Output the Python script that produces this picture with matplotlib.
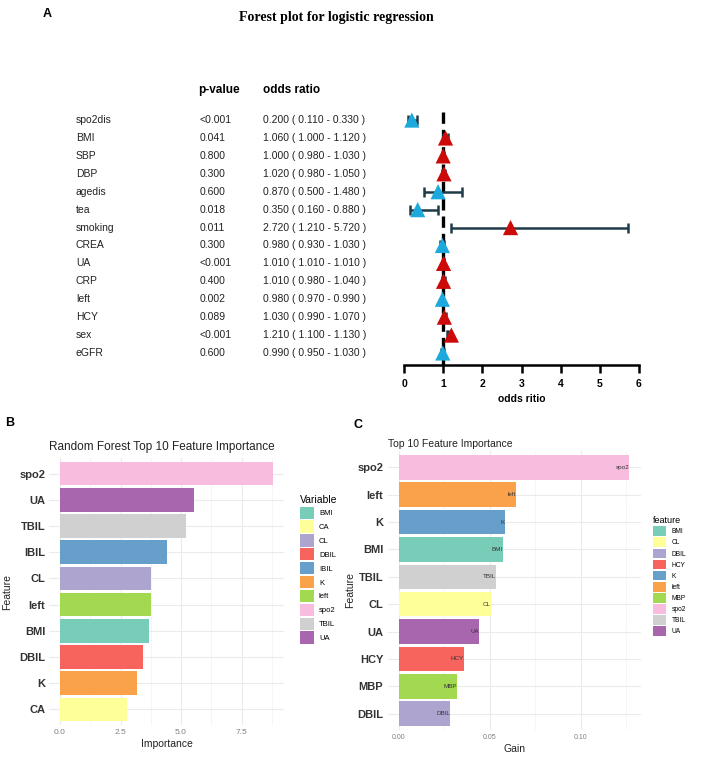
import matplotlib
matplotlib.use('Agg')
import matplotlib.pyplot as plt
import numpy as np
from matplotlib.patches import Patch
from matplotlib.transforms import blended_transform_factory

plt.rcParams['font.family'] = ['Liberation Sans', 'DejaVu Sans']

# --- A: logistic regression ---
variables = ['spo2dis', 'BMI', 'SBP', 'DBP', 'agedis', 'tea', 'smoking',
             'CREA', 'UA', 'CRP', 'left', 'HCY', 'sex', 'eGFR']
p_values = ['<0.001', '0.041', '0.800', '0.300', '0.600', '0.018', '0.011',
            '0.300', '<0.001', '0.400', '0.002', '0.089', '<0.001', '0.600']
odds = [0.200, 1.060, 1.000, 1.020, 0.870, 0.350, 2.720,
        0.980, 1.010, 1.010, 0.980, 1.030, 1.210, 0.990]
ci_low = [0.110, 1.000, 0.980, 0.980, 0.500, 0.160, 1.210,
          0.930, 1.010, 0.980, 0.970, 0.990, 1.100, 0.950]
ci_high = [0.330, 1.120, 1.030, 1.050, 1.480, 0.880, 5.720,
           1.030, 1.010, 1.040, 0.990, 1.070, 1.130, 1.030]

# --- B: random forest ---
rf_features = ['spo2', 'UA', 'TBIL', 'IBIL', 'CL', 'left', 'BMI', 'DBIL', 'K', 'CA']
rf_importance = [8.80, 5.55, 5.20, 4.40, 3.78, 3.74, 3.67, 3.41, 3.20, 2.75]

# --- C: gain ---
xgb_features = ['spo2', 'left', 'K', 'BMI', 'TBIL', 'CL', 'UA', 'HCY', 'MBP', 'DBIL']
xgb_gain = [0.1264, 0.0643, 0.0582, 0.0571, 0.0533, 0.0505, 0.0440, 0.0357, 0.0319, 0.0280]

palette = ['#78CDB9', '#FFFF9A', '#ADA5D0', '#F7645E', '#679FCB',
           '#F9A24A', '#A2D950', '#F7BCDE', '#D0D0D0', '#A866AE']

W, H = 708, 764
fig = plt.figure(figsize=(W / 100, H / 100), dpi=100)


def add_ax(l, t, r, b):
    return fig.add_axes([l / W, 1 - b / H, (r - l) / W, (b - t) / H])


def fx(x):
    return x / W


def fy(y):
    return 1 - y / H


# ================= panel A =================
fig.text(fx(47), fy(14), 'A', fontsize=9, fontweight='bold', ha='center', va='center')
fig.text(fx(336), fy(18), 'Forest plot for logistic regression', fontsize=10,
         fontweight='bold', family='Liberation Serif', ha='center', va='center')

ax = add_ax(404, 105, 639, 365)
n = len(variables)
rows = np.arange(n)
ax.set_xlim(0, 6)
ax.set_ylim(n - 1 + 0.67, -0.84)

ax.plot([1, 1], [-0.45, n - 1 + 0.67], color='black', lw=2.4,
        ls=(0, (3.4, 1.8)), zorder=1)
ci_col = '#1E3B48'
ax.hlines(rows, ci_low, ci_high, color=ci_col, lw=1.8, zorder=2)
ax.scatter(ci_low, rows, marker='|', s=45, color=ci_col, linewidths=1.8, zorder=2)
ax.scatter(ci_high, rows, marker='|', s=45, color=ci_col, linewidths=1.8, zorder=2)
tri_colors = ['#CC0A0A' if o >= 1 else '#1DA9DC' for o in odds]
ax.scatter(odds, rows, marker='^', s=120, c=tri_colors, linewidths=0, zorder=4)

for s in ['left', 'top', 'right']:
    ax.spines[s].set_visible(False)
ax.spines['bottom'].set_linewidth(1.8)
ax.set_yticks([])
ax.set_xticks(range(7))
ax.tick_params(axis='x', length=6, width=1.8, labelsize=7.5, pad=4)
for lbl in ax.get_xticklabels():
    lbl.set_fontweight('bold')
ax.set_xlabel('odds ritio', fontsize=7.5, fontweight='bold', labelpad=4)
ax.patch.set_alpha(0)

trans = blended_transform_factory(fig.transFigure, ax.transData)
fig.text(fx(198), fy(90), 'p-value', fontsize=8.5, fontweight='bold', va='center')
fig.text(fx(263), fy(90), 'odds ratio', fontsize=8.5, fontweight='bold', va='center')
for i in range(n):
    ax.text(fx(76), i, variables[i], transform=trans, fontsize=7.5,
            color='#222222', va='center', ha='left')
    ax.text(fx(200), i, p_values[i], transform=trans, fontsize=7.5,
            color='#222222', va='center', ha='left')
    ax.text(fx(263), i, f'{odds[i]:.3f} ( {ci_low[i]:.3f} - {ci_high[i]:.3f} )',
            transform=trans, fontsize=7.5, color='#222222', va='center', ha='left')


# ================= bar panels =================
def bar_panel(axb, feats, vals, xt, xt_labels, xminor, title, title_fs, xlab,
              tick_fs, pad_title, ylab_x):
    names = sorted(set(feats), key=str.lower)
    cmap = {f: palette[k] for k, f in enumerate(names)}
    y = np.arange(len(feats))
    axb.barh(y, vals, height=0.9, color=[cmap[f] for f in feats], zorder=2)
    rng = max(vals)
    axb.set_xlim(-0.05 * rng, 1.05 * rng)
    axb.set_ylim(len(feats) - 0.4, -0.6)
    axb.set_yticks(y)
    axb.set_yticklabels(feats, fontsize=8, fontweight='bold', color='#333333')
    axb.set_xticks(xt)
    axb.set_xticklabels(xt_labels, fontsize=tick_fs, color='#808080')
    axb.set_xticks(xminor, minor=True)
    axb.tick_params(which='both', length=0)
    axb.tick_params(axis='y', pad=3)
    axb.tick_params(axis='x', pad=3)
    axb.grid(which='major', color='#EBEBEB', lw=0.8, zorder=0)
    axb.grid(which='minor', axis='x', color='#F2F2F2', lw=0.5, zorder=0)
    axb.set_axisbelow(True)
    for s in axb.spines.values():
        s.set_visible(False)
    axb.set_title(title, loc='left', fontsize=title_fs, pad=pad_title, color='#222222')
    axb.set_xlabel(xlab, fontsize=7.5, labelpad=2, color='#222222')
    axb.set_ylabel('Feature', fontsize=7.5, color='#222222')
    axb.yaxis.set_label_coords(ylab_x, 0.5)
    return names, cmap


# ---- B ----
fig.text(fx(10), fy(423), 'B', fontsize=9, fontweight='bold', ha='center', va='center')
axB = add_ax(49.4, 458, 283.6, 725)
names_b, cmap_b = bar_panel(axB, rf_features, rf_importance, [0, 2.5, 5, 7.5],
                            ['0.0', '2.5', '5.0', '7.5'], [1.25, 3.75, 6.25, 8.75],
                            'Random Forest Top 10 Feature Importance', 8.5, 'Importance',
                            6, 6, (12 - 49.4) / 234.2)
fs_b = 5.5
axB.legend([Patch(facecolor=cmap_b[f], edgecolor='none') for f in names_b], names_b,
           loc='upper left', bbox_to_anchor=(fx(300), fy(495)),
           bbox_transform=fig.transFigure, frameon=False, fontsize=fs_b,
           title='Variable', title_fontsize=7.5, alignment='left',
           handlelength=14 / (fs_b * 1.389), handleheight=16 / (fs_b * 1.389),
           labelspacing=0.21, handletextpad=0.65, borderpad=0, borderaxespad=0)

# ---- C ----
fig.text(fx(358), fy(425), 'C', fontsize=9, fontweight='bold', ha='center', va='center')
axC = add_ax(387.5, 451, 640.5, 730)
names_c, cmap_c = bar_panel(axC, xgb_features, xgb_gain, [0, 0.05, 0.10],
                            ['0.00', '0.05', '0.10'], [0.025, 0.075, 0.125],
                            'Top 10 Feature Importance', 7.5, 'Gain',
                            5, 3, (355 - 387.5) / 253)
for i, (f, v) in enumerate(zip(xgb_features, xgb_gain)):
    axC.text(v, i, f, ha='right', va='center', fontsize=4.5, color='#333333', zorder=3)
fs_c = 4.8
axC.legend([Patch(facecolor=cmap_c[f], edgecolor='none') for f in names_c], names_c,
           loc='upper left', bbox_to_anchor=(fx(653), fy(516)),
           bbox_transform=fig.transFigure, frameon=False, fontsize=fs_c,
           title='feature', title_fontsize=6.5, alignment='left',
           handlelength=13.5 / (fs_c * 1.389), handleheight=12.5 / (fs_c * 1.389),
           labelspacing=0.2, handletextpad=0.75, borderpad=0, borderaxespad=0)

fig.savefig('out.png', dpi=100, facecolor='white')
